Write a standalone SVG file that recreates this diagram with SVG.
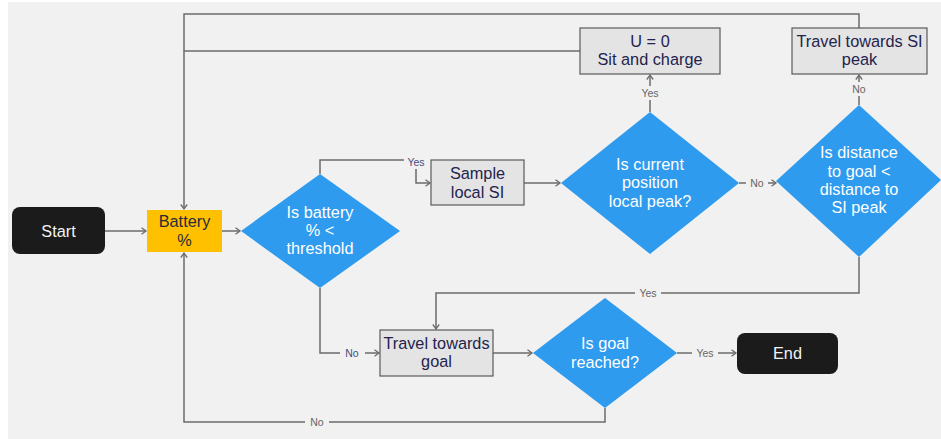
<svg xmlns="http://www.w3.org/2000/svg" width="941" height="439" viewBox="0 0 941 439">
  <defs>
    <marker id="arrow" markerWidth="8" markerHeight="8" refX="6" refY="4" orient="auto" markerUnits="userSpaceOnUse">
      <path d="M1.5,0.8 L6,4 L1.5,7.2" fill="none" stroke="#6b6b6b" stroke-width="1.3"/>
    </marker>
    <style>
      text { font-family: "Liberation Sans", Arial, sans-serif; text-anchor: middle; }
      .term { fill: #1b1b1b; }
      .term-t { fill: #f2f2f2; font-size: 16.3px; }
      .proc { fill: #e4e4e4; stroke: #5a5a5a; stroke-width: 1.2; }
      .proc-t { fill: #23234d; font-size: 16.3px; }
      .dec { fill: #2e9bee; }
      .dec-t { fill: #ffffff; font-size: 16.3px; }
      .batt { fill: #ffc000; }
      .batt-t { fill: #2a2a3a; font-size: 16.3px; }
      .edge { fill: none; stroke: #6b6b6b; stroke-width: 1.5; }
      .lbl-bg { fill: #f1f1f1; }
      .lbl { fill: #666666; font-size: 10.5px; }
      .lbl-n { fill: #4a4a7a; font-size: 10.5px; }
    </style>
  </defs>

  <!-- canvas -->
  <rect x="8" y="2" width="933" height="437" fill="#f1f1f1"/>

  <!-- connectors -->
  <g id="connectors">
    <path class="edge" d="M105,231 H146" marker-end="url(#arrow)"/>
    <path class="edge" d="M222,231 H240" marker-end="url(#arrow)"/>
    <path class="edge" d="M320,174 V160 H416 V183 H430" marker-end="url(#arrow)"/>
    <path class="edge" d="M524,183 H560" marker-end="url(#arrow)"/>
    <path class="edge" d="M650,112 V75" marker-end="url(#arrow)"/>
    <path class="edge" d="M739,183 H776" marker-end="url(#arrow)"/>
    <path class="edge" d="M859,105 V75" marker-end="url(#arrow)"/>
    <path class="edge" d="M859,257 V293 H436 V329" marker-end="url(#arrow)"/>
    <path class="edge" d="M580,51 H184 V209" marker-end="url(#arrow)"/>
    <path class="edge" d="M859,28 V14 H184 V51"/>
    <path class="edge" d="M320,288 V353 H379" marker-end="url(#arrow)"/>
    <path class="edge" d="M493,353 H532" marker-end="url(#arrow)"/>
    <path class="edge" d="M677,353 H736" marker-end="url(#arrow)"/>
    <path class="edge" d="M605,408 V422 H184 V253" marker-end="url(#arrow)"/>

    <!-- edge labels -->
    <rect class="lbl-bg" x="404" y="155" width="24" height="14"/>
    <text class="lbl-n" x="416" y="166">Yes</text>
    <rect class="lbl-bg" x="639" y="86" width="22" height="14"/>
    <text class="lbl" x="650" y="97">Yes</text>
    <rect class="lbl-bg" x="746" y="176" width="22" height="14"/>
    <text class="lbl" x="757" y="187">No</text>
    <rect class="lbl-bg" x="850" y="82" width="18" height="14"/>
    <text class="lbl" x="859" y="93">No</text>
    <rect class="lbl-bg" x="635" y="286" width="26" height="14"/>
    <text class="lbl" x="648" y="297">Yes</text>
    <rect class="lbl-bg" x="340" y="346" width="25" height="14"/>
    <text class="lbl-n" x="352" y="357">No</text>
    <rect class="lbl-bg" x="692" y="346" width="26" height="14"/>
    <text class="lbl" x="705" y="357">Yes</text>
    <rect class="lbl-bg" x="305" y="415" width="24" height="14"/>
    <text class="lbl" x="317" y="426">No</text>
  </g>

  <!-- nodes -->
  <g id="start">
    <rect class="term" x="12" y="207" width="93" height="47" rx="8"/>
    <text class="term-t" x="58.5" y="236.5">Start</text>
  </g>

  <g id="battery">
    <rect class="batt" x="147" y="210" width="75" height="42"/>
    <text class="batt-t" x="184.5" y="227">Battery</text>
    <text class="batt-t" x="184.5" y="246">%</text>
  </g>

  <g id="check-battery">
    <polygon class="dec" points="320,174 400,231 320,288 241,231"/>
    <text class="dec-t" x="320" y="217.5">Is battery</text>
    <text class="dec-t" x="320" y="236">% &lt;</text>
    <text class="dec-t" x="320" y="253.5">threshold</text>
  </g>

  <g id="sample">
    <rect class="proc" x="431" y="160" width="93" height="45"/>
    <text class="proc-t" x="477.5" y="178.5">Sample</text>
    <text class="proc-t" x="477.5" y="197.5">local SI</text>
  </g>

  <g id="check-peak">
    <polygon class="dec" points="650,112 739,183 650,254 561,183"/>
    <text class="dec-t" x="650" y="169.5">Is current</text>
    <text class="dec-t" x="650" y="187.5">position</text>
    <text class="dec-t" x="650" y="206.5">local peak?</text>
  </g>

  <g id="charge">
    <rect class="proc" x="580" y="28" width="140" height="46"/>
    <text class="proc-t" x="650" y="46.5">U = 0</text>
    <text class="proc-t" x="650" y="64.5">Sit and charge</text>
  </g>

  <g id="check-distance">
    <polygon class="dec" points="859,105 941,180 859,257 776,181"/>
    <text class="dec-t" x="859" y="157.5">Is distance</text>
    <text class="dec-t" x="859" y="176.5">to goal &lt;</text>
    <text class="dec-t" x="859" y="194.5">distance to</text>
    <text class="dec-t" x="859" y="212.5">SI peak</text>
  </g>

  <g id="travel-peak">
    <rect class="proc" x="792" y="28" width="135" height="46"/>
    <text class="proc-t" x="859.5" y="46.5">Travel towards SI</text>
    <text class="proc-t" x="859.5" y="64.5">peak</text>
  </g>

  <g id="travel-goal">
    <rect class="proc" x="380" y="330" width="113" height="46"/>
    <text class="proc-t" x="436.5" y="348.5">Travel towards</text>
    <text class="proc-t" x="436.5" y="366.5">goal</text>
  </g>

  <g id="check-goal">
    <polygon class="dec" points="605,298 677,353 605,408 533,353"/>
    <text class="dec-t" x="605" y="348.5">Is goal</text>
    <text class="dec-t" x="605" y="367.5">reached?</text>
  </g>

  <g id="end">
    <rect class="term" x="737" y="333" width="101" height="41" rx="8"/>
    <text class="term-t" x="787.5" y="358.5">End</text>
  </g>
</svg>
